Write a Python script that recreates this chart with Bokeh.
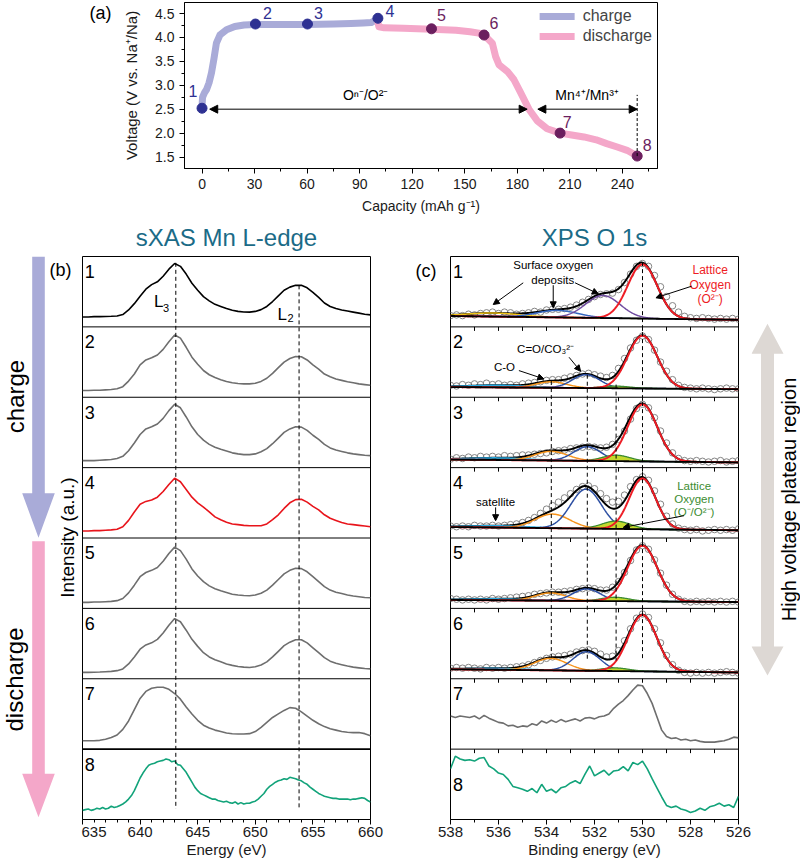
import numpy as np
from bokeh.plotting import figure
from bokeh.models import Range1d, FixedTicker, Span, Arrow, NormalHead
from bokeh.layouts import column, row
from bokeh.core.properties import value
from bokeh.embed import file_html
from bokeh.resources import INLINE

FONT = "Liberation Sans"
CHARGE_C = "#a9abd8"
DISCHARGE_C = "#f4a7c9"
NAVY = "#2e3192"
PLUM = "#6b1e5e"
TEAL = "#1b6b87"
GREY_ARROW = "#ddd8d4"

# ====================== panel (a) data ======================
charge_cap = [0, 0.3, 1.5, 2.6, 4.0, 5.4, 6.8, 8.2, 10.2, 14.0, 18.7, 24.0, 30.0, 45.0,
              60.0, 75.0, 85.0, 92.0, 96.5, 100.0]
charge_volt = [2.55, 2.75, 2.85, 2.91, 3.05, 3.26, 3.55, 3.88, 4.05, 4.16, 4.23, 4.26, 4.27, 4.27,
               4.27, 4.28, 4.29, 4.30, 4.31, 4.38]
discharge_cap = [100, 101, 104, 115, 131, 145, 153, 158, 161, 165.7, 167.6, 169.5, 174.3, 178,
                 181.8, 186.6, 191.3, 197, 204.4, 211, 218, 225, 231, 237, 242.6, 248.4]
discharge_volt = [4.38, 4.22, 4.20, 4.19, 4.17, 4.15, 4.12, 4.09, 4.05, 3.88, 3.60, 3.43, 3.29, 3.12,
                  2.85, 2.50, 2.26, 2.09, 2.00, 1.96, 1.92, 1.86, 1.78, 1.71, 1.64, 1.52]
state_cap = [0, 30.5, 60.2, 100.4, 131, 161, 204.4, 248.4]
state_volt = [2.52, 4.28, 4.28, 4.40, 4.18, 4.05, 2.00, 1.52]
state_labels = ["1", "2", "3", "4", "5", "6", "7", "8"]
state_colors = [NAVY, NAVY, NAVY, NAVY, PLUM, PLUM, PLUM, PLUM]
cap_ticks = [0, 30, 60, 90, 120, 150, 180, 210, 240]
cap_minor_ticks = [15, 45, 75, 105, 135, 165, 195, 225, 255]
volt_ticks = [1.5, 2.0, 2.5, 3.0, 3.5, 4.0, 4.5]
volt_tick_labels = ["1.5", "2.0", "2.5", "3.0", "3.5", "4.0", "4.5"]
volt_minor_ticks = [1.75, 2.25, 2.75, 3.25, 3.75, 4.25]
redox_O_range = [4.4, 185.6]     # O^n-/O^2- region (capacity)
redox_Mn_range = [191.7, 248.4]  # Mn4+/Mn3+ region (capacity)
redox_volt = 2.5

# ====================== panel (b) sXAS data (635-660 eV) ======================
xas_1 = [0.14, 0.14, 0.145, 0.145, 0.148, 0.15, 0.155, 0.175, 0.24, 0.33,
         0.435, 0.535, 0.60, 0.64, 0.72, 0.82, 0.90, 0.86, 0.75, 0.62,
         0.52, 0.43, 0.37, 0.32, 0.29, 0.26, 0.235, 0.22, 0.212, 0.21,
         0.22, 0.245, 0.29, 0.36, 0.44, 0.52, 0.565, 0.59, 0.59, 0.555,
         0.49, 0.42, 0.34, 0.29, 0.26, 0.24, 0.225, 0.21, 0.195, 0.18,
         0.17]
xas_2 = [0.095, 0.095, 0.10, 0.10, 0.105, 0.11, 0.12, 0.15, 0.23, 0.33,
         0.46, 0.53, 0.56, 0.60, 0.68, 0.79, 0.885, 0.84, 0.71, 0.57,
         0.47, 0.38, 0.32, 0.28, 0.25, 0.225, 0.205, 0.195, 0.19, 0.19,
         0.20, 0.225, 0.27, 0.34, 0.42, 0.50, 0.55, 0.58, 0.575, 0.53,
         0.46, 0.40, 0.33, 0.29, 0.26, 0.24, 0.22, 0.205, 0.19, 0.18,
         0.17]
xas_3 = [0.10, 0.10, 0.10, 0.105, 0.11, 0.115, 0.13, 0.16, 0.24, 0.35,
         0.47, 0.55, 0.58, 0.62, 0.70, 0.81, 0.90, 0.85, 0.72, 0.58,
         0.47, 0.39, 0.33, 0.29, 0.26, 0.235, 0.21, 0.195, 0.185, 0.185,
         0.195, 0.225, 0.27, 0.34, 0.42, 0.50, 0.55, 0.58, 0.575, 0.53,
         0.46, 0.40, 0.33, 0.28, 0.25, 0.23, 0.21, 0.195, 0.185, 0.175,
         0.17]
xas_4 = [0.10, 0.10, 0.105, 0.105, 0.11, 0.115, 0.125, 0.16, 0.25, 0.37,
         0.48, 0.52, 0.54, 0.58, 0.66, 0.76, 0.85, 0.80, 0.69, 0.58,
         0.50, 0.44, 0.37, 0.30, 0.26, 0.225, 0.20, 0.19, 0.18, 0.175,
         0.175, 0.175, 0.20, 0.26, 0.33, 0.42, 0.50, 0.545, 0.55, 0.51,
         0.45, 0.40, 0.33, 0.28, 0.25, 0.22, 0.20, 0.19, 0.18, 0.17,
         0.16]
xas_5 = [0.085, 0.085, 0.09, 0.09, 0.095, 0.10, 0.11, 0.14, 0.22, 0.33,
         0.45, 0.51, 0.54, 0.58, 0.67, 0.78, 0.87, 0.82, 0.70, 0.56,
         0.46, 0.38, 0.32, 0.28, 0.25, 0.225, 0.20, 0.19, 0.182, 0.18,
         0.19, 0.215, 0.26, 0.33, 0.41, 0.49, 0.54, 0.57, 0.565, 0.52,
         0.45, 0.38, 0.31, 0.26, 0.23, 0.21, 0.19, 0.175, 0.165, 0.155,
         0.15]
xas_6 = [0.09, 0.09, 0.092, 0.095, 0.10, 0.105, 0.115, 0.14, 0.21, 0.31,
         0.42, 0.48, 0.51, 0.56, 0.65, 0.76, 0.855, 0.81, 0.69, 0.56,
         0.46, 0.37, 0.31, 0.27, 0.24, 0.21, 0.19, 0.175, 0.165, 0.16,
         0.17, 0.195, 0.24, 0.31, 0.39, 0.47, 0.52, 0.555, 0.555, 0.51,
         0.44, 0.37, 0.30, 0.25, 0.22, 0.20, 0.18, 0.165, 0.155, 0.145,
         0.14]
xas_7 = [0.118, 0.12, 0.12, 0.125, 0.14, 0.165, 0.20, 0.28, 0.40, 0.56,
         0.72, 0.82, 0.865, 0.88, 0.88, 0.85, 0.79, 0.71, 0.60, 0.50,
         0.41, 0.34, 0.30, 0.27, 0.25, 0.23, 0.218, 0.215, 0.215, 0.22,
         0.25, 0.31, 0.38, 0.45, 0.50, 0.55, 0.59, 0.58, 0.53, 0.47,
         0.41, 0.36, 0.32, 0.29, 0.27, 0.25, 0.24, 0.235, 0.235, 0.22,
         0.19]
xas_8 = [0.13, 0.14, 0.15, 0.13, 0.14, 0.16, 0.15, 0.17, 0.15, 0.16,
         0.19, 0.17, 0.18, 0.20, 0.22, 0.25, 0.29, 0.34, 0.41, 0.50,
         0.59, 0.66, 0.72, 0.77, 0.79, 0.80, 0.82, 0.83, 0.84, 0.86,
         0.85, 0.82, 0.83, 0.78, 0.77, 0.72, 0.67, 0.60, 0.53, 0.46,
         0.41, 0.37, 0.35, 0.33, 0.31, 0.29, 0.29, 0.27, 0.26, 0.25,
         0.26, 0.24, 0.23, 0.25, 0.22, 0.24, 0.22, 0.23, 0.23, 0.25,
         0.26, 0.29, 0.33, 0.37, 0.43, 0.47, 0.50, 0.53, 0.55, 0.56,
         0.58, 0.57, 0.60, 0.59, 0.58, 0.56, 0.55, 0.52, 0.50, 0.46,
         0.43, 0.40, 0.37, 0.35, 0.33, 0.32, 0.31, 0.30, 0.30, 0.29,
         0.29, 0.29, 0.29, 0.28, 0.29, 0.29, 0.30, 0.31, 0.30, 0.27,
         0.25]
xas_spectra = [xas_1, xas_2, xas_3, xas_4, xas_5, xas_6, xas_7, xas_8]
xas_colors = ["#000000", "#6e6e6e", "#6e6e6e", "#e8141b", "#6e6e6e", "#6e6e6e", "#6e6e6e", "#12a37a"]
xas_edges = [643.1, 653.8]          # L3, L2 peak energies
xas_ticks = [635, 640, 645, 650, 655, 660]
xas_minor_ticks = list(range(636, 660))

# ====================== panel (c) XPS O 1s data (538 -> 526 eV) ======================
xps_1 = [0.16, 0.17, 0.16, 0.18, 0.17, 0.19, 0.20, 0.21, 0.19, 0.21,
         0.20, 0.18, 0.19, 0.20, 0.22, 0.21, 0.24, 0.25, 0.25, 0.26,
         0.28, 0.31, 0.35, 0.39, 0.43, 0.46, 0.47, 0.48, 0.53, 0.63,
         0.75, 0.86, 0.90, 0.86, 0.73, 0.57, 0.43, 0.30, 0.21, 0.15,
         0.13, 0.12, 0.13, 0.12, 0.11, 0.12, 0.11, 0.12, 0.11]
xps_2 = [0.17, 0.16, 0.18, 0.17, 0.19, 0.18, 0.20, 0.18, 0.19, 0.17,
         0.18, 0.17, 0.19, 0.20, 0.21, 0.22, 0.24, 0.25, 0.25, 0.27,
         0.29, 0.31, 0.33, 0.34, 0.32, 0.30, 0.28, 0.31, 0.41, 0.55,
         0.70, 0.81, 0.87, 0.82, 0.67, 0.50, 0.37, 0.25, 0.17, 0.14,
         0.13, 0.12, 0.13, 0.12, 0.11, 0.12, 0.13, 0.12, 0.12]
xps_3 = [0.12, 0.14, 0.13, 0.15, 0.14, 0.16, 0.15, 0.16, 0.15, 0.17,
         0.16, 0.17, 0.18, 0.18, 0.19, 0.20, 0.21, 0.23, 0.24, 0.25,
         0.27, 0.28, 0.29, 0.30, 0.29, 0.28, 0.29, 0.33, 0.40, 0.52,
         0.69, 0.84, 0.90, 0.85, 0.71, 0.52, 0.35, 0.21, 0.13, 0.10,
         0.09, 0.10, 0.09, 0.08, 0.09, 0.10, 0.08, 0.09, 0.10]
xps_4 = [0.17, 0.16, 0.17, 0.16, 0.18, 0.17, 0.17, 0.18, 0.17, 0.18,
         0.19, 0.20, 0.22, 0.25, 0.29, 0.35, 0.41, 0.46, 0.51, 0.57,
         0.63, 0.69, 0.73, 0.74, 0.70, 0.63, 0.56, 0.51, 0.52, 0.61,
         0.73, 0.83, 0.87, 0.82, 0.67, 0.48, 0.31, 0.20, 0.14, 0.12,
         0.11, 0.12, 0.10, 0.11, 0.12, 0.11, 0.12, 0.11, 0.13]
xps_5 = [0.14, 0.13, 0.12, 0.13, 0.12, 0.13, 0.12, 0.14, 0.13, 0.14,
         0.15, 0.16, 0.17, 0.18, 0.20, 0.21, 0.22, 0.23, 0.23, 0.24,
         0.25, 0.27, 0.28, 0.29, 0.28, 0.26, 0.26, 0.30, 0.38, 0.51,
         0.68, 0.83, 0.89, 0.84, 0.69, 0.50, 0.33, 0.20, 0.13, 0.10,
         0.09, 0.10, 0.09, 0.10, 0.09, 0.10, 0.09, 0.10, 0.09]
xps_6 = [0.15, 0.16, 0.15, 0.16, 0.15, 0.14, 0.16, 0.15, 0.16, 0.15,
         0.16, 0.17, 0.18, 0.20, 0.23, 0.26, 0.29, 0.31, 0.32, 0.33,
         0.35, 0.38, 0.40, 0.41, 0.39, 0.35, 0.31, 0.32, 0.40, 0.54,
         0.71, 0.86, 0.92, 0.87, 0.71, 0.51, 0.33, 0.20, 0.12, 0.09,
         0.08, 0.09, 0.08, 0.09, 0.08, 0.09, 0.10, 0.09, 0.08]
xps_7 = [0.47, 0.45, 0.47, 0.46, 0.45, 0.47, 0.43, 0.48, 0.44, 0.41,
         0.38, 0.37, 0.33, 0.34, 0.31, 0.33, 0.32, 0.36, 0.34, 0.40,
         0.37, 0.41, 0.38, 0.42, 0.39, 0.41, 0.43, 0.40, 0.44, 0.45,
         0.43, 0.46, 0.47, 0.50, 0.58, 0.64, 0.69, 0.76, 0.84, 0.91,
         0.90, 0.79, 0.65, 0.46, 0.27, 0.18, 0.15, 0.16, 0.13, 0.14,
         0.12, 0.13, 0.11, 0.10, 0.10, 0.10, 0.11, 0.12, 0.14, 0.17,
         0.16]
xps_8 = [0.72, 0.90, 0.86, 0.84, 0.85, 0.83, 0.87, 0.88, 0.76, 0.72,
         0.66, 0.64, 0.57, 0.47, 0.45, 0.43, 0.40, 0.44, 0.38, 0.50,
         0.40, 0.43, 0.38, 0.45, 0.47, 0.52, 0.55, 0.51, 0.64, 0.76,
         0.62, 0.66, 0.70, 0.63, 0.69, 0.70, 0.75, 0.69, 0.81, 0.78,
         0.83, 0.72, 0.58, 0.45, 0.32, 0.20, 0.17, 0.19, 0.15, 0.13,
         0.10, 0.12, 0.16, 0.13, 0.18, 0.20, 0.23, 0.19, 0.21, 0.17,
         0.33]
xps_measured = [xps_1, xps_2, xps_3, xps_4, xps_5, xps_6]

# fitted peak parameters per fitted spectrum 1..6 (center eV, height, FWHM eV)
red_center = [530.0, 530.0, 530.0, 530.0, 530.0, 530.0]
red_height = [0.77, 0.75, 0.81, 0.72, 0.79, 0.80]
red_fwhm = [1.45, 1.45, 1.45, 1.30, 1.45, 1.40]
blue_center = [533.55, 532.35, 532.30, 532.35, 532.33, 532.33]
blue_height = [0.10, 0.19, 0.20, 0.56, 0.17, 0.27]
blue_fwhm = [2.0, 1.35, 1.35, 1.50, 1.35, 1.35]
green_center = [531.1, 531.1, 531.1, 531.1, 531.15, 531.15]
green_height = [0.0, 0.03, 0.085, 0.11, 0.055, 0.045]
green_fwhm = [1.4, 1.4, 1.35, 1.40, 1.35, 1.35]
orange_center = [533.8, 533.8, 533.8, 533.75, 533.83, 533.83]
orange_height = [0.0, 0.085, 0.13, 0.20, 0.11, 0.17]
orange_fwhm = [1.5, 1.5, 1.6, 1.7, 1.5, 1.6]
cyan_center = [536.0, 536.0, 536.0, 536.0, 536.0, 536.0]
cyan_height = [0.0, 0.03, 0.03, 0.025, 0.02, 0.02]
cyan_fwhm = [3.0, 3.0, 3.0, 3.0, 3.0, 3.0]
purple_center = [531.65, 0, 0, 0, 0, 0]
purple_height = [0.32, 0.0, 0.0, 0.0, 0.0, 0.0]
purple_fwhm = [1.7, 1.7, 1.7, 1.7, 1.7, 1.7]
yellow_center = [536.2, 0, 0, 0, 0, 0]
yellow_height = [0.05, 0.0, 0.0, 0.0, 0.0, 0.0]
yellow_fwhm = [2.6, 2.6, 2.6, 2.6, 2.6, 2.6]
baseline_at_538 = [0.155, 0.145, 0.115, 0.156, 0.12, 0.135]
baseline_at_526 = [0.10, 0.115, 0.075, 0.11, 0.09, 0.09]
xps_levels = [533.8, 532.3, 531.1, 530.0]
xps_ticks = [538, 536, 534, 532, 530, 528, 526]
xps_minor_ticks = [537, 535, 533, 531, 529, 527]

# ====================== helpers ======================
def style_axis(ax, fs, lab_fs, tick_standoff, lab_standoff):
    ax.axis_line_color = "black"
    ax.major_tick_line_color = "black"
    ax.minor_tick_line_color = "black"
    ax.major_tick_in = 0
    ax.major_tick_out = 5
    ax.minor_tick_in = 0
    ax.minor_tick_out = 3
    ax.major_label_text_font = FONT
    ax.major_label_text_font_size = fs
    ax.major_label_text_color = "#1a1a1a"
    ax.major_label_standoff = tick_standoff
    ax.axis_label_text_font = FONT
    ax.axis_label_text_font_style = "normal"
    ax.axis_label_text_font_size = lab_fs
    ax.axis_label_text_color = "#1a1a1a"
    ax.axis_label_standoff = lab_standoff


def txt(p, x, y, t, size, color="black", align="center", angle=0.0, baseline="middle"):
    p.text(x=x, y=y, text=t, text_font=value(FONT), text_font_size=size, text_color=color,
           text_align=align, text_baseline=baseline, angle=angle)


def arrow(p, x0, y0, x1, y1, size=6, color="black", both=False):
    head = NormalHead(size=size, fill_color=color, line_color=color, line_width=1)
    start = NormalHead(size=size, fill_color=color, line_color=color, line_width=1) if both else None
    p.add_layout(Arrow(start=start, end=head, x_start=x0, y_start=y0, x_end=x1, y_end=y1,
                       line_color=color, line_width=1))


def blank(width, height, top, bottom):
    # decoration panel whose frame lines up with its row neighbours; data units = pixels
    f = figure(width=width, height=height, x_range=Range1d(0, width),
               y_range=Range1d(height - bottom, top),
               x_axis_type=None, y_axis_type=None, output_backend="svg",
               toolbar_location=None, min_border_left=0, min_border_right=0,
               min_border_top=top, min_border_bottom=bottom)
    f.outline_line_color = None
    f.xgrid.visible = False
    f.ygrid.visible = False
    return f


# ====================== top row: figure (a) ======================
H1 = 216
A_TOP, A_BOTTOM = 2, 46
fa0 = blank(120, H1, A_TOP, A_BOTTOM)
txt(fa0, [100], [13], ["(a)"], "18px")

pa = figure(width=680, height=H1, x_range=Range1d(-10, 260), y_range=Range1d(1.26, 4.73),
            output_backend="svg", toolbar_location=None,
            min_border_left=63, min_border_right=143, min_border_top=A_TOP,
            min_border_bottom=A_BOTTOM)
pa.xgrid.visible = False
pa.ygrid.visible = False
pa.outline_line_color = "black"
pa.outline_line_alpha = 1.0
pa.outline_line_width = 1
pa.xaxis.ticker = FixedTicker(ticks=cap_ticks, minor_ticks=cap_minor_ticks)
pa.yaxis.ticker = FixedTicker(ticks=volt_ticks, minor_ticks=volt_minor_ticks)
pa.yaxis.major_label_overrides = {t: l for t, l in zip(volt_ticks, volt_tick_labels)}
style_axis(pa.xaxis[0], "14px", "14px", 5, 6)
style_axis(pa.yaxis[0], "14px", "15px", 5, 12)
pa.xaxis.axis_label = "Capacity (mAh g\u207b\u00b9)"
pa.yaxis.axis_label = "Voltage (V vs. Na\u207a/Na)"

pa.line(charge_cap, charge_volt, line_width=7, color=CHARGE_C, line_cap="round",
        line_join="round", legend_label="charge")
pa.line(discharge_cap, discharge_volt, line_width=7, color=DISCHARGE_C, line_cap="round",
        line_join="round", legend_label="discharge")
pa.scatter(state_cap, state_volt, size=10, marker="circle", fill_color=state_colors,
           line_color=state_colors)
pa.text(x=state_cap, y=state_volt, text=state_labels, text_font=value(FONT),
        text_font_size="16px", text_color=state_colors, text_align="center",
        text_baseline="middle",
        x_offset=[-9, 12, 11, 12, 10, 10, 7, 10], y_offset=[-17, -11, -11, -7, -14, -12, -11, -11])

arrow(pa, redox_O_range[0], redox_volt, redox_O_range[1], redox_volt, size=8, both=True)
arrow(pa, redox_Mn_range[0], redox_volt, redox_Mn_range[1], redox_volt, size=8, both=True)
pa.segment(x0=[redox_Mn_range[1]], y0=[state_volt[7]], x1=[redox_Mn_range[1]], y1=[2.80],
           line_color="black", line_width=1, line_dash="3 2")
txt(pa, [93.4], [2.80], ["O\u207f\u207b/O\u00b2\u207b"], "14px")
txt(pa, [219.8], [2.80], ["Mn\u2074\u207a/Mn\u00b3\u207a"], "14px")

lg = pa.legend[0]
lg.location = "top_right"
lg.margin = 5
lg.padding = 0
lg.spacing = 2
lg.border_line_color = None
lg.background_fill_alpha = 0
lg.label_text_font = FONT
lg.label_text_font_size = "16px"
lg.glyph_width = 35
lg.glyph_height = 16
lg.label_height = 16
lg.label_standoff = 8

# ====================== bottom row ======================
H2 = 862 - H1
B_TOP, B_BOTTOM = 40, 43


def py(page_y):
    # page y position -> local pixel coordinate of the bottom row decoration panels
    return page_y - H1


def block_arrow(cx, top, base, tip, bw, hw):
    xs = [cx - bw / 2, cx + bw / 2, cx + bw / 2, cx + hw / 2, cx, cx - hw / 2, cx - bw / 2]
    ys = [top, top, base, base, tip, base, base]
    return xs, ys


def stacked(width, xr, title, left, right):
    f = figure(width=width, height=H2, x_range=xr, y_range=Range1d(0, 8),
               output_backend="svg", toolbar_location=None,
               min_border_left=left, min_border_right=right, min_border_top=B_TOP,
               min_border_bottom=B_BOTTOM, title=title)
    f.xgrid.visible = False
    f.ygrid.visible = False
    f.yaxis.visible = False
    f.outline_line_color = "black"
    f.outline_line_alpha = 1.0
    f.outline_line_width = 1
    f.title.align = "center"
    f.title.text_font = FONT
    f.title.text_font_size = "24px"
    f.title.text_font_style = "normal"
    f.title.text_color = TEAL
    f.title.standoff = 11
    f.title.offset = 0
    style_axis(f.xaxis[0], "15px", "15px", 2, 1)
    return f


# ---- left arrows column ----
fl = blank(81, H2, B_TOP, B_BOTTOM)
xs1, ys1 = block_arrow(38, py(256), py(492.7), py(537.3), 12.6, 32.6)
xs2, ys2 = block_arrow(38, py(540.7), py(773.3), py(816.7), 12.6, 32.6)
fl.patch(xs1, ys1, fill_color=CHARGE_C, line_color=None)
fl.patch(xs2, ys2, fill_color=DISCHARGE_C, line_color=None)
txt(fl, [15], [py(396)], ["charge"], "24px", angle=np.pi / 2)
txt(fl, [14], [py(679)], ["discharge"], "24px", angle=np.pi / 2)
txt(fl, [60], [py(269)], ["(b)"], "18px")
txt(fl, [67], [py(537)], ["Intensity (a.u.)"], "19px", angle=np.pi / 2)

# ---- sXAS ----
pb = stacked(303, Range1d(635, 660), "sXAS Mn L-edge", 1, 14)
pb.xaxis.ticker = FixedTicker(ticks=xas_ticks, minor_ticks=xas_minor_ticks)
pb.xaxis.axis_label = "Energy (eV)"
for b in range(1, 8):
    pb.add_layout(Span(location=b, dimension="width", line_color="black",
                       line_width=1.6 if b == 1 else 1))
for k, spec in enumerate(xas_spectra):
    e = np.linspace(635, 660, len(spec))
    pb.line(e, np.array(spec) + (7 - k), color=xas_colors[k], line_width=1.6)
pb.segment(x0=xas_edges, y0=[7.91, 7.59], x1=xas_edges, y1=[0.15, 0.15],
           line_color="black", line_width=1, line_dash="4 3")
txt(pb, [635.2] * 8, [8 - k - 0.213 for k in range(8)], state_labels, "18px", align="left")
txt(pb, [641.61, 652.34], [7.364, 7.175], ["L", "L"], "17px")
txt(pb, [642.25, 653.06], [7.275, 7.128], ["3", "2"], "11px")

# ---- gap with (c) ----
fg = blank(53, H2, B_TOP, B_BOTTOM)
txt(fg, [41.5], [py(270)], ["(c)"], "18px")

# ---- XPS ----
pc = stacked(314, Range1d(538, 526), "XPS O 1s", 13, 13)
pc.xaxis.ticker = FixedTicker(ticks=xps_ticks, minor_ticks=xps_minor_ticks)
pc.xaxis.axis_label = "Binding energy (eV)"
for b in range(1, 8):
    pc.add_layout(Span(location=b, dimension="width", line_color="black", line_width=1))
# small inward ticks hanging from each panel separator (every 1 eV)
sep_ticks = sorted(xps_ticks[1:-1] + xps_minor_ticks)
tick_len = 4.0 / (563.0 / 8.0)
tx = [t for b in range(1, 8) for t in sep_ticks]
ty0 = [b for b in range(1, 8) for t in sep_ticks]
ty1 = [b - tick_len for b in range(1, 8) for t in sep_ticks]
pc.segment(x0=tx, y0=ty0, x1=tx, y1=ty1, line_color="black", line_width=1)

e_fine = np.linspace(538, 526, 481)


def gauss(c, h, w):
    return h * np.exp(-4 * np.log(2) * ((e_fine - c) / w) ** 2)


for k in range(6):
    off = 7 - k
    meas = xps_measured[k]
    em = np.linspace(538, 526, len(meas))
    base = baseline_at_526[k] + (baseline_at_538[k] - baseline_at_526[k]) * (e_fine - 526) / 12
    comps = [
        (yellow_center[k], yellow_height[k], yellow_fwhm[k], "#f2c318"),
        (cyan_center[k], cyan_height[k], cyan_fwhm[k], "#29abe2"),
        (orange_center[k], orange_height[k], orange_fwhm[k], "#f7941d"),
        (blue_center[k], blue_height[k], blue_fwhm[k], "#2b4ea2" if k else "#3566c0"),
        (purple_center[k], purple_height[k], purple_fwhm[k], "#6f4ba0"),
    ]
    g_green = gauss(green_center[k], green_height[k], green_fwhm[k])
    g_red = gauss(red_center[k], red_height[k], red_fwhm[k])
    total = base + g_green + g_red
    for c, h, w, col in comps:
        if h > 0:
            total = total + gauss(c, h, w)
    pc.scatter(em, np.array(meas) + off, size=6.5, marker="circle", fill_color=None,
               line_color="#858585", line_width=1)
    pc.line(e_fine, total + off, color="black", line_width=2)
    for c, h, w, col in comps:
        if h > 0:
            pc.line(e_fine, base + gauss(c, h, w) + off, color=col, line_width=1.5)
    if green_height[k] > 0:
        pc.varea(x=e_fine, y1=base + off, y2=base + g_green + off, fill_color="#c4d82e")
        pc.line(e_fine, base + g_green + off, color="#3c8c30", line_width=1.3)
    pc.line(e_fine, base + g_red + off, color="#ee1c24", line_width=2)
    pc.line(e_fine, base + off, color="black", line_width=1.8)

pc.line(np.linspace(538, 526, len(xps_7)), np.array(xps_7) + 1, color="#6e6e6e", line_width=1.6)
pc.line(np.linspace(538, 526, len(xps_8)), np.array(xps_8) + 0, color="#12a37a", line_width=1.6)
pc.segment(x0=xps_levels, y0=[6.23, 6.32, 6.18, 7.92], x1=xps_levels, y1=[2.30, 2.26, 2.26, 2.26],
           line_color="black", line_width=1, line_dash="4 3")
txt(pc, [537.9] * 7, [8 - k - 0.213 for k in range(7)], state_labels[:7], "18px", align="left")
txt(pc, [537.9], [0.5], state_labels[7:], "18px", align="left")

# annotations in (c)
txt(pc, [533.72], [7.876], ["Surface oxygen"], "11.5px")
txt(pc, [533.74], [7.673], ["deposits"], "11.5px")
arrow(pc, 534.97, 7.626, 536.22, 7.318)
arrow(pc, 533.72, 7.592, 533.72, 7.271)
arrow(pc, 532.81, 7.626, 531.84, 7.470)
txt(pc, [527.18, 527.18, 527.18], [7.815, 7.602, 7.389], ["Lattice", "Oxygen", "(O\u00b2\u207b)"],
    "12px", color="#ee1c24")
arrow(pc, 527.95, 7.578, 529.44, 7.413)
txt(pc, [534.04], [6.688], ["C=O/CO\u2083\u00b2\u207b"], "11.5px")
arrow(pc, 533.06, 6.568, 532.58, 6.369)
txt(pc, [535.75], [6.426], ["C-O"], "11.5px")
arrow(pc, 535.15, 6.379, 534.11, 6.261)
txt(pc, [536.12], [4.506], ["satellite"], "11.5px")
arrow(pc, 536.12, 4.435, 536.12, 4.246)
txt(pc, [527.85, 527.85, 527.85], [4.744, 4.555, 4.364], ["Lattice", "Oxygen", "(O\u207b/O\u00b2\u207b)"],
    "11.5px", color="#3c8c30")
arrow(pc, 528.27, 4.317, 530.80, 4.151)

# ---- right grey arrow (local x = page x - 751) ----
fr = blank(49, H2, B_TOP, B_BOTTOM)
cx, bw, hw = 16, 13, 32
ttip, tbase, bbase, btip = py(323.3), py(353.3), py(646.0), py(675.0)
fr.patch([cx, cx + hw / 2, cx + bw / 2, cx + bw / 2, cx + hw / 2, cx, cx - hw / 2, cx - bw / 2,
          cx - bw / 2, cx - hw / 2],
         [ttip, tbase, tbase, bbase, bbase, btip, bbase, bbase, tbase, tbase],
         fill_color=GREY_ARROW, line_color=None)
txt(fr, [37], [py(499)], ["High voltage plateau region"], "20px", angle=np.pi / 2)

layout = column(row(fa0, pa), row(fl, pb, fg, pc, fr))
open("out.html", "w", encoding="utf-8").write(file_html(layout, INLINE))
